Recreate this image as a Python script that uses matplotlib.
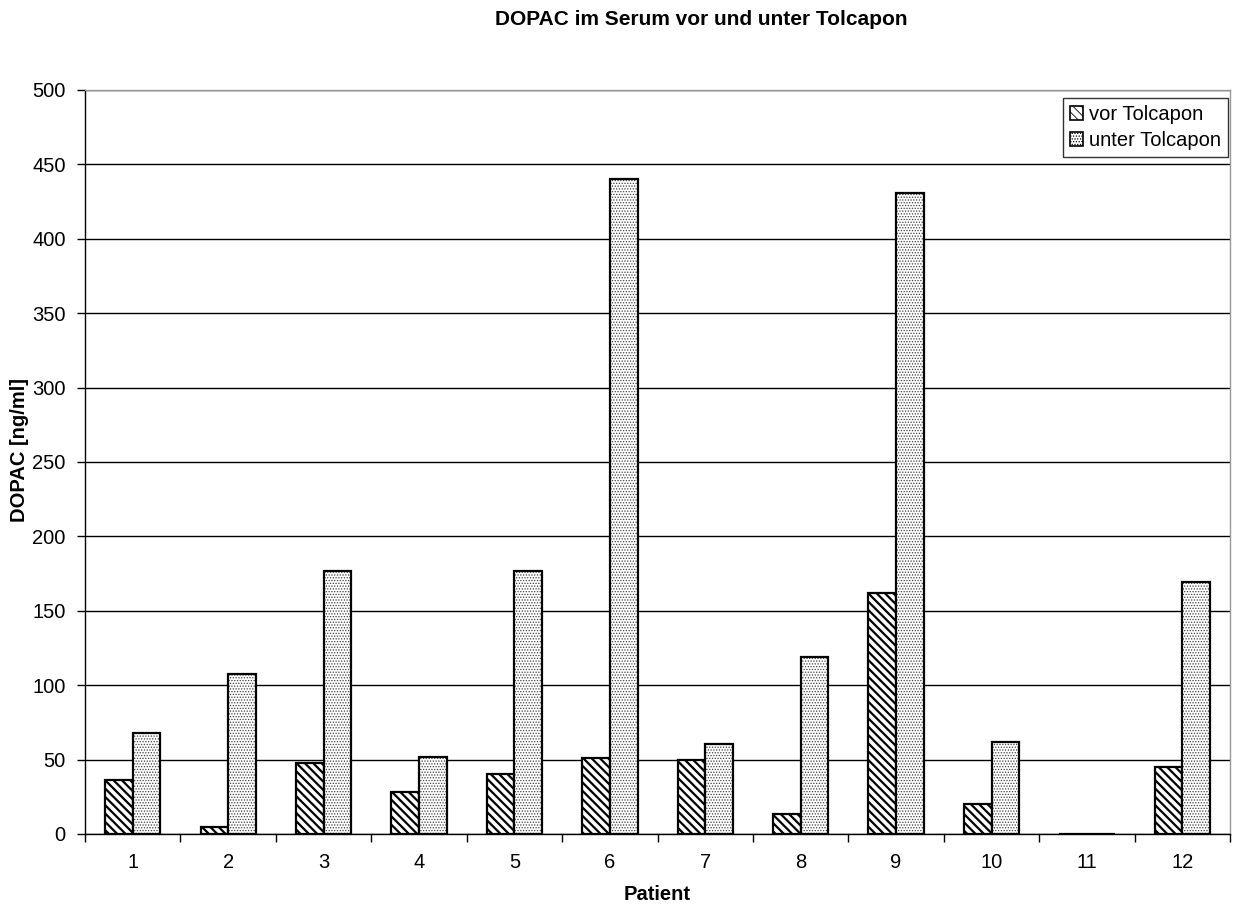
import matplotlib
matplotlib.use("Agg")
import matplotlib.pyplot as plt
from matplotlib.patches import Patch
import numpy as np

plt.rcParams['font.family'] = ['Liberation Sans', 'DejaVu Sans']

patients = ["1", "2", "3", "4", "5", "6", "7", "8", "9", "10", "11", "12"]
vor_tolcapon = [36.5, 4.8, 47.5, 28, 40.5, 51, 49.5, 13.3, 162, 20, 0, 45]
unter_tolcapon = [68, 107.5, 176.5, 52, 177, 440.5, 60.5, 119, 430.5, 62, 0, 169.5]
y_ticks = [0, 50, 100, 150, 200, 250, 300, 350, 400, 450, 500]

FS = 14.5
VOR_HATCH = "\\\\\\\\"
UNTER_HATCH = "......"
UNTER_FACE = "white"
UNTER_DOTS = "#404040"


def set_hatch_lw(patches, lw):
    for p in patches:
        if hasattr(p, "set_hatch_linewidth"):
            p.set_hatch_linewidth(lw)


fig = plt.figure(figsize=(12.33, 9.06), dpi=100)
ax = fig.add_axes([0.069, 0.0795, 0.9286, 0.8212])

x = np.arange(len(patients))
w = 0.29
plt.rcParams['hatch.linewidth'] = 1.6
vor_bars = ax.bar(x - w / 2, vor_tolcapon, width=w, facecolor="white", edgecolor="black",
                  hatch=VOR_HATCH, linewidth=1.6, zorder=3)
set_hatch_lw(vor_bars, 1.6)
plt.rcParams['hatch.linewidth'] = 0.6
unter_fill = ax.bar(x + w / 2, unter_tolcapon, width=w, facecolor=UNTER_FACE,
                    edgecolor=UNTER_DOTS, hatch=UNTER_HATCH, linewidth=0, zorder=3)
set_hatch_lw(unter_fill, 0.6)
ax.bar(x + w / 2, unter_tolcapon, width=w, facecolor="none", edgecolor="black",
       linewidth=1.6, zorder=4)

vor_handle = Patch(facecolor="white", edgecolor="black", hatch=VOR_HATCH, linewidth=1.2,
                   label="vor Tolcapon")
unter_handle = Patch(facecolor=UNTER_FACE, edgecolor="black", hatch=UNTER_HATCH, linewidth=1.2,
                     label="unter Tolcapon")
set_hatch_lw([vor_handle], 1.6)
set_hatch_lw([unter_handle], 0.6)

ax.set_xlim(-0.5, len(patients) - 0.5)
ax.set_ylim(0, 500)
ax.set_yticks(y_ticks)
ax.set_yticklabels([str(t) for t in y_ticks], fontsize=FS)
ax.set_xticks(x)
ax.set_xticklabels(patients, fontsize=FS)
ax.set_xticks(np.arange(len(patients) + 1) - 0.5, minor=True)
ax.tick_params(axis="x", which="major", length=0, pad=14)
ax.tick_params(axis="x", which="minor", length=6, direction="out", width=1)
ax.tick_params(axis="y", length=6, direction="out", width=1, pad=8)
ax.yaxis.grid(True, color="black", linewidth=1, zorder=0)
ax.set_axisbelow(True)

for side in ["top", "right"]:
    ax.spines[side].set_color("#999999")
    ax.spines[side].set_linewidth(1)
for side in ["left", "bottom"]:
    ax.spines[side].set_color("black")
    ax.spines[side].set_linewidth(1)

ax.set_xlabel("Patient", fontsize=FS, fontweight="bold", labelpad=9)
fig.text(20 / 1233, 1 - 450 / 906, "DOPAC [ng/ml]", rotation=90, ha="center", va="center",
         fontsize=FS, fontweight="bold")
fig.text(0.569, 0.979, "DOPAC im Serum vor und unter Tolcapon", ha="center", va="center",
         fontsize=15, fontweight="bold")

leg = ax.legend(handles=[vor_handle, unter_handle], loc="upper right",
                bbox_to_anchor=(0.9985, 0.989),
                fontsize=FS, frameon=True, fancybox=False, edgecolor="black",
                handlelength=0.65, handleheight=0.65, handletextpad=0.3,
                borderaxespad=0.0, borderpad=0.35, labelspacing=0.35)
leg.get_frame().set_linewidth(1)

fig.savefig("out.png", dpi=100)
